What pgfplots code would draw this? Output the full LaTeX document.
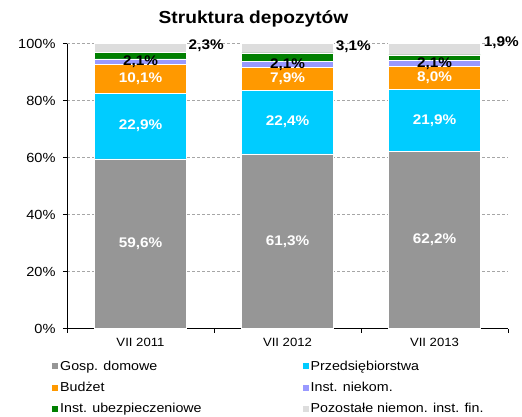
\documentclass[border=0pt]{standalone}
\usepackage{pgfplots}
\pgfplotsset{compat=1.18}
\usepackage{fontspec}
\setmainfont{Liberation Sans}[FakeStretch=1.1]

\definecolor{cGosp}{HTML}{969696}
\definecolor{cPrzed}{HTML}{00CCFF}
\definecolor{cBudzet}{HTML}{FF9900}
\definecolor{cNiekom}{HTML}{9999FF}
\definecolor{cUbezp}{HTML}{008000}
\definecolor{cPozost}{HTML}{DDDDDD}

\begin{document}
\begin{tikzpicture}
\useasboundingbox (-67bp,-88.3bp) rectangle (455bp,328.7bp);
\begin{axis}[
  at={(0,0)}, anchor=south west,
  scale only axis, width=441bp, height=285bp,
  ybar stacked, bar width=92bp,
  xmin=-0.5, xmax=2.5, ymin=0, ymax=100,
  axis x line*=bottom, axis y line*=left,
  axis line style={black, line width=0.8pt},
  xtick={-0.5,0.5,1.5,2.5}, xticklabels={},
  extra x ticks={0,1,2},
  extra x tick labels={VII 2011,VII 2012,VII 2013},
  extra x tick style={major tick length=0pt},
  ytick={0,20,40,60,80,100},
  yticklabels={0\%,20\%,40\%,60\%,80\%,100\%},
  tick align=outside, major tick length=4bp,
  tick style={black, line width=0.6pt},
  ymajorgrids,
  grid style={gray!70, dash pattern=on 3bp off 2bp, line width=0.6pt},
  yticklabel style={font=\fontsize{13.3}{15}\selectfont, xshift=-4bp},
  xticklabel style={font=\fontsize{12}{14}\selectfont, yshift=-6bp},
  legend columns=2,
  legend style={at={(axis description cs:0,0)}, anchor=north west,
    xshift=-18bp, yshift=-28bp, draw=none, fill=none,
    font=\fontsize{13}{15}\selectfont, cells={anchor=west},
    /tikz/every even column/.append style={column sep=99bp},
    /tikz/row sep=6.5bp},
  legend image code/.code={\fill[#1, draw=none] (0bp,-3bp) rectangle (6bp,3bp);},
  every axis plot/.append style={draw=white, line width=0.6pt},
]
\addplot[fill=cGosp]   coordinates {(0,59.6) (1,61.3) (2,62.2)};
\addplot[fill=cPrzed]  coordinates {(0,22.9) (1,22.4) (2,21.9)};
\addplot[fill=cBudzet] coordinates {(0,10.1) (1,7.9) (2,8.0)};
\addplot[fill=cNiekom] coordinates {(0,2.1) (1,2.1) (2,2.1)};
\addplot[fill=cUbezp]  coordinates {(0,2.3) (1,3.1) (2,1.9)};
\addplot[fill=cPozost] coordinates {(0,3.0) (1,3.2) (2,3.9)};
\legend{Gosp. domowe, Przedsiębiorstwa, Budżet, Inst. niekom.,
  Inst. ubezpieczeniowe, Pozostałe niemon. inst. fin.}
\end{axis}

% data labels, placed at the middle of each segment
\begin{axis}[
  at={(0,0)}, anchor=south west,
  scale only axis, width=441bp, height=285bp,
  xmin=-0.5, xmax=2.5, ymin=0, ymax=100,
  hide axis, clip=false,
  point meta=explicit,
  nodes near coords={\pgfmathprintnumber[fixed,fixed zerofill,precision=1,use comma,assume math mode=true]{\pgfplotspointmeta}\%},
  every node near coord/.append style={anchor=center,
    font=\bfseries\fontsize{14}{16}\selectfont},
]
\addplot[draw=none, nodes near coords style={text=white}] table[meta=v] {
x y v
0 29.80 59.6
1 30.65 61.3
2 31.10 62.2
0 71.05 22.9
1 72.50 22.4
2 73.15 21.9
0 87.55 10.1
1 87.65 7.9
2 88.10 8.0
};
\addplot[draw=none, nodes near coords style={text=black}] table[meta=v] {
x y v
0 93.65 2.1
1 92.65 2.1
2 93.15 2.1
0.447 99.3 2.3
1.448 98.8 3.1
2.454 100.3 1.9
};
\end{axis}
\node[font=\bfseries\fontsize{17.5}{20}\selectfont, anchor=base]
  at (186.5bp,305.4bp) {Struktura depozytów};
\end{tikzpicture}
\end{document}
